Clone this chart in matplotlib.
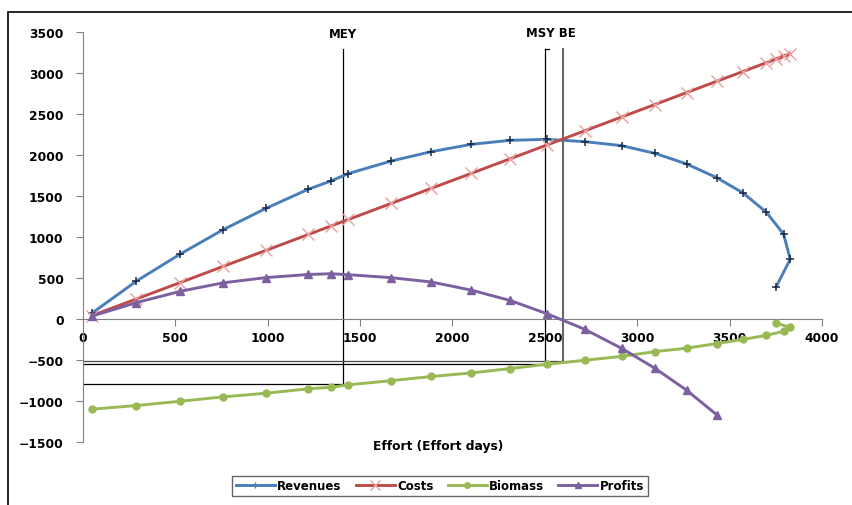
import matplotlib.pyplot as plt
from matplotlib.patches import Rectangle
from matplotlib.lines import Line2D

# Effort (days) for each simulated point
effort = [48, 289, 527, 758, 991, 1220, 1343, 1437, 1669, 1886, 2102, 2312,
          2512, 2716, 2915, 3095, 3267, 3429, 3572, 3698, 3792, 3828, 3751]
revenues = [70, 462, 793, 1089, 1350, 1583, 1684, 1774, 1927, 2041, 2130, 2179,
            2191, 2163, 2114, 2021, 1891, 1725, 1538, 1304, 1036, 729, 389]
costs = [41, 244, 445, 641, 837, 1031, 1135, 1214, 1410, 1594, 1776, 1954,
         2123, 2295, 2463, 2615, 2761, 2898, 3018, 3125, 3204, 3235, 3170]
biomass = [-1100, -1055, -1003, -950, -905, -851, -832, -802, -752, -701, -658, -604,
           -552, -503, -456, -398, -356, -300, -249, -200, -150, -103, -50]
profits = [35, 200, 338, 441, 505, 543, 552, 540, 504, 451, 352, 226,
           64, -126, -357, -600, -868, -1166]

# reference points (effort, biomass level)
mey_effort, mey_level = 1405, -790
msy_effort, msy_level = 2503, -550
be_effort, be_level = 2596, -512
line_top = 3290

fig = plt.figure(figsize=(8.53, 5.06), dpi=100)
ax = fig.add_axes([83/853, 1-443/506, 739/853, 410/506])

ax.plot(effort, revenues, color='#4a7ebb', lw=2.1, marker='+', ms=6,
        mec='#1c2b45', mew=1.1, label='Revenues', zorder=3)
ax.plot(effort, costs, color='#be4b48', lw=2.1, marker='x', ms=8,
        mec='#e8a09e', mew=1.0, label='Costs', zorder=3)
ax.plot(effort, biomass, color='#98b954', lw=2.1, marker='o', ms=5,
        mec='#98b954', label='Biomass', zorder=3)
ax.plot(effort[:len(profits)], profits, color='#7d60a0', lw=2.1, marker='^', ms=6,
        mec='#7d60a0', label='Profits', zorder=3)

# MEY / MSY / BE guide lines
ax.plot([mey_effort, mey_effort], [mey_level, line_top], color='black', lw=0.9, zorder=2)
ax.plot([0, mey_effort], [mey_level, mey_level], color='black', lw=0.9, zorder=2)
ax.plot([msy_effort, msy_effort], [msy_level, line_top], color='black', lw=0.9, zorder=2)
ax.plot([msy_effort, msy_effort + 18], [line_top, line_top], color='black', lw=0.9, zorder=2)
ax.plot([0, msy_effort], [msy_level, msy_level], color='black', lw=0.9, zorder=2)
ax.plot([be_effort, be_effort], [be_level, line_top], color='#666666', lw=1.5, zorder=2)
ax.plot([0, be_effort], [be_level, be_level], color='#444444', lw=0.9, zorder=2)

ax.text(mey_effort, 3480, 'MEY', ha='center', va='center', fontsize=8.5, fontweight='bold')
ax.text((msy_effort + be_effort) / 2 - 15, 3490, 'MSY BE', ha='center', va='center',
        fontsize=8.5, fontweight='bold')

ax.set_xlim(0, 4000)
ax.set_ylim(-1500, 3500)
ax.set_xticks(range(0, 4001, 500))
ax.set_yticks(range(-1500, 3501, 500))
ax.spines['top'].set_visible(False)
ax.spines['right'].set_visible(False)
ax.spines['bottom'].set_position(('data', 0))
ax.spines['left'].set_color('#808080')
ax.spines['bottom'].set_color('#808080')
ax.tick_params(axis='both', direction='out', length=5, color='#808080', labelsize=8.8)
ax.tick_params(axis='y', pad=9)
for lab in ax.get_xticklabels() + ax.get_yticklabels():
    lab.set_fontweight('bold')

fig.text(438/853, 1-447/506, 'Effort (Effort days)', ha='center', va='center',
         fontsize=8.8, fontweight='bold')

handles = [Line2D([], [], color='#4a7ebb', lw=2.1, marker='+', ms=4, mec='#4a7ebb'),
           Line2D([], [], color='#be4b48', lw=2.1, marker='x', ms=7, mec='#e8a09e'),
           Line2D([], [], color='#98b954', lw=2.1, marker='o', ms=4),
           Line2D([], [], color='#7d60a0', lw=2.1, marker='^', ms=5)]
leg = fig.legend(handles, ['Revenues', 'Costs', 'Biomass', 'Profits'], ncol=4,
                 loc='center', bbox_to_anchor=(440/853, 1-487/506), fancybox=False,
                 frameon=True, edgecolor='#404040', handlelength=3.3,
                 handletextpad=0.2, columnspacing=1.2, borderpad=0.3,
                 prop={'weight': 'bold', 'size': 8.5})
leg.get_frame().set_linewidth(1.0)

# outer chart-area border
fig.patches.append(Rectangle((8/853, -0.1), 1.2, 1.1 - 13/506, transform=fig.transFigure,
                             fill=False, edgecolor='black', lw=1.2))

fig.savefig('out.png', dpi=100)
